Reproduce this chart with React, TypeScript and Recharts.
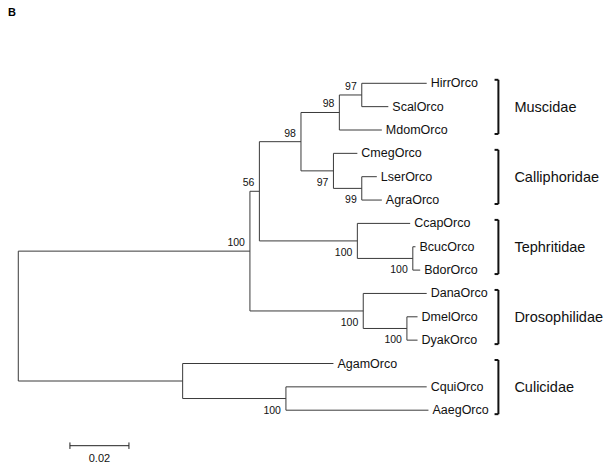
import { ScatterChart, Scatter, XAxis, YAxis, ReferenceLine } from 'recharts'

// tips, top to bottom
const taxa = [
  'HirrOrco', 'ScalOrco', 'MdomOrco', 'CmegOrco', 'LserOrco', 'AgraOrco', 'CcapOrco', 'BcucOrco',
  'BdorOrco', 'DanaOrco', 'DmelOrco', 'DyakOrco', 'AgamOrco', 'CquiOrco', 'AaegOrco',
]
// distance from root (substitutions/site)
const tipDepth = [
  0.1384, 0.1254, 0.1232, 0.1149, 0.1215, 0.1232, 0.1328, 0.1346,
  0.1362, 0.1384, 0.1353, 0.1353, 0.1068, 0.1384, 0.139,
]

const nodeIds = ['root', 'n1', 'n2', 'n3', 'n4', 'n5', 'n6', 'n7', 'n8', 'n9', 'n10', 'n11', 'n12', 'n13']
const nodeDepth = [0, 0.0785, 0.0817, 0.0958, 0.1088, 0.1164, 0.1068, 0.1164, 0.1149, 0.1337, 0.1169, 0.1317, 0.0557, 0.0907]
const nodeChildren = [
  ['n1', 'n12'], ['n2', 'n10'], ['n3', 'n8'], ['n4', 'n6'], ['n5', 'MdomOrco'], ['HirrOrco', 'ScalOrco'],
  ['CmegOrco', 'n7'], ['LserOrco', 'AgraOrco'], ['CcapOrco', 'n9'], ['BcucOrco', 'BdorOrco'],
  ['DanaOrco', 'n11'], ['DmelOrco', 'DyakOrco'], ['AgamOrco', 'n13'], ['CquiOrco', 'AaegOrco'],
]
const nodeSupport = [null, 100, 56, 98, 98, 97, 97, 99, 100, 100, 100, 100, null, 100]
const supportBelow = [false, false, false, false, false, false, true, true, true, true, true, true, false, true]

const families = ['Muscidae', 'Calliphoridae', 'Tephritidae', 'Drosophilidae', 'Culicidae']
const familyFirst = [0, 3, 6, 9, 12]
const familyLast = [2, 5, 8, 11, 14]

const scaleBarValue = 0.02

// layout (data units)
const X_DOMAIN = [-0.0062, 0.2012]
const Y_DOMAIN = [-3.5675, 16.561]
const BRACKET_X = 0.1627
const SCALE_X = 0.0175
const SCALE_Y = 15.52

const FONT = 'Arial, "Liberation Sans", sans-serif'
const LINE = '#3a3a3a'

type Pt = { x: number; y: number }
const pos: Record<string, Pt> = {}
taxa.forEach((t, i) => { pos[t] = { x: tipDepth[i], y: i } })
function place(id: string): Pt {
  if (pos[id]) return pos[id]
  const k = nodeIds.indexOf(id)
  const [a, b] = nodeChildren[k].map(place)
  pos[id] = { x: nodeDepth[k], y: (a.y + b.y) / 2 }
  return pos[id]
}
place('root')

const segments: [Pt, Pt][] = []
nodeIds.forEach((id, k) => {
  const p = pos[id]
  const kids = nodeChildren[k].map(c => pos[c])
  segments.push([{ x: p.x, y: kids[0].y }, { x: p.x, y: kids[1].y }])
  kids.forEach(c => segments.push([{ x: p.x, y: c.y }, { x: c.x, y: c.y }]))
})

const tipData = taxa.map((t, i) => ({ x: tipDepth[i], y: i, name: t }))
const supportData = nodeIds
  .map((id, k) => ({ ...pos[id], value: nodeSupport[k], below: supportBelow[k] }))
  .filter(d => d.value != null)
const familyData = families.map((f, i) => ({ x: BRACKET_X, y: (familyFirst[i] + familyLast[i]) / 2, name: f }))
const scaleData = [{ x: SCALE_X + scaleBarValue / 2, y: SCALE_Y, name: String(scaleBarValue) }]

export default function App() {
  return (
    <div style={{ position: 'absolute', left: 0, top: 0, width: 612, height: 470, background: '#fff' }}>
      <div style={{ position: 'absolute', left: 8, top: 6, fontFamily: FONT, fontWeight: 'bold', fontSize: 11 }}>B</div>
      <ScatterChart width={612} height={470} margin={{ top: 0, right: 0, bottom: 0, left: 0 }}>
        <XAxis type="number" dataKey="x" domain={X_DOMAIN} allowDataOverflow hide />
        <YAxis type="number" dataKey="y" domain={Y_DOMAIN} allowDataOverflow reversed hide />
        {segments.map((s, i) => (
          <ReferenceLine key={`b${i}`} segment={s} stroke={LINE} strokeWidth={1} />
        ))}
        {families.map((f, i) => {
          const top = familyFirst[i] - 0.15
          const bot = familyLast[i] + 0.17
          return [
            <ReferenceLine key={`fv${i}`} segment={[{ x: BRACKET_X, y: top }, { x: BRACKET_X, y: bot }]} stroke="#111" strokeWidth={2} />,
            <ReferenceLine key={`ft${i}`} segment={[{ x: BRACKET_X - 0.0013, y: top }, { x: BRACKET_X, y: top }]} stroke="#111" strokeWidth={2} />,
            <ReferenceLine key={`fb${i}`} segment={[{ x: BRACKET_X - 0.0013, y: bot }, { x: BRACKET_X, y: bot }]} stroke="#111" strokeWidth={2} />,
          ]
        })}
        <ReferenceLine segment={[{ x: SCALE_X, y: SCALE_Y }, { x: SCALE_X + scaleBarValue, y: SCALE_Y }]} stroke="#222" strokeWidth={1} />
        <ReferenceLine segment={[{ x: SCALE_X, y: SCALE_Y - 0.14 }, { x: SCALE_X, y: SCALE_Y + 0.14 }]} stroke="#222" strokeWidth={1} />
        <ReferenceLine segment={[{ x: SCALE_X + scaleBarValue, y: SCALE_Y - 0.14 }, { x: SCALE_X + scaleBarValue, y: SCALE_Y + 0.14 }]} stroke="#222" strokeWidth={1} />
        <Scatter
          data={tipData}
          isAnimationActive={false}
          shape={(p: any) => (
            <text x={p.cx + 4} y={p.cy} dominantBaseline="central" fontFamily={FONT} fontSize={12.5} fill="#111">
              {p.payload.name}
            </text>
          )}
        />
        <Scatter
          data={supportData}
          isAnimationActive={false}
          shape={(p: any) => (
            <text x={p.cx - 5} y={p.cy + (p.payload.below ? 11 : -9)} textAnchor="end" dominantBaseline="central" fontFamily={FONT} fontSize={10.5} fill="#111">
              {p.payload.value}
            </text>
          )}
        />
        <Scatter
          data={familyData}
          isAnimationActive={false}
          shape={(p: any) => (
            <text x={p.cx + 16} y={p.cy} dominantBaseline="central" fontFamily={FONT} fontSize={14.5} fill="#111">
              {p.payload.name}
            </text>
          )}
        />
        <Scatter
          data={scaleData}
          isAnimationActive={false}
          shape={(p: any) => (
            <text x={p.cx} y={p.cy + 12} textAnchor="middle" dominantBaseline="central" fontFamily={FONT} fontSize={11} fill="#111">
              {p.payload.name}
            </text>
          )}
        />
      </ScatterChart>
    </div>
  )
}
